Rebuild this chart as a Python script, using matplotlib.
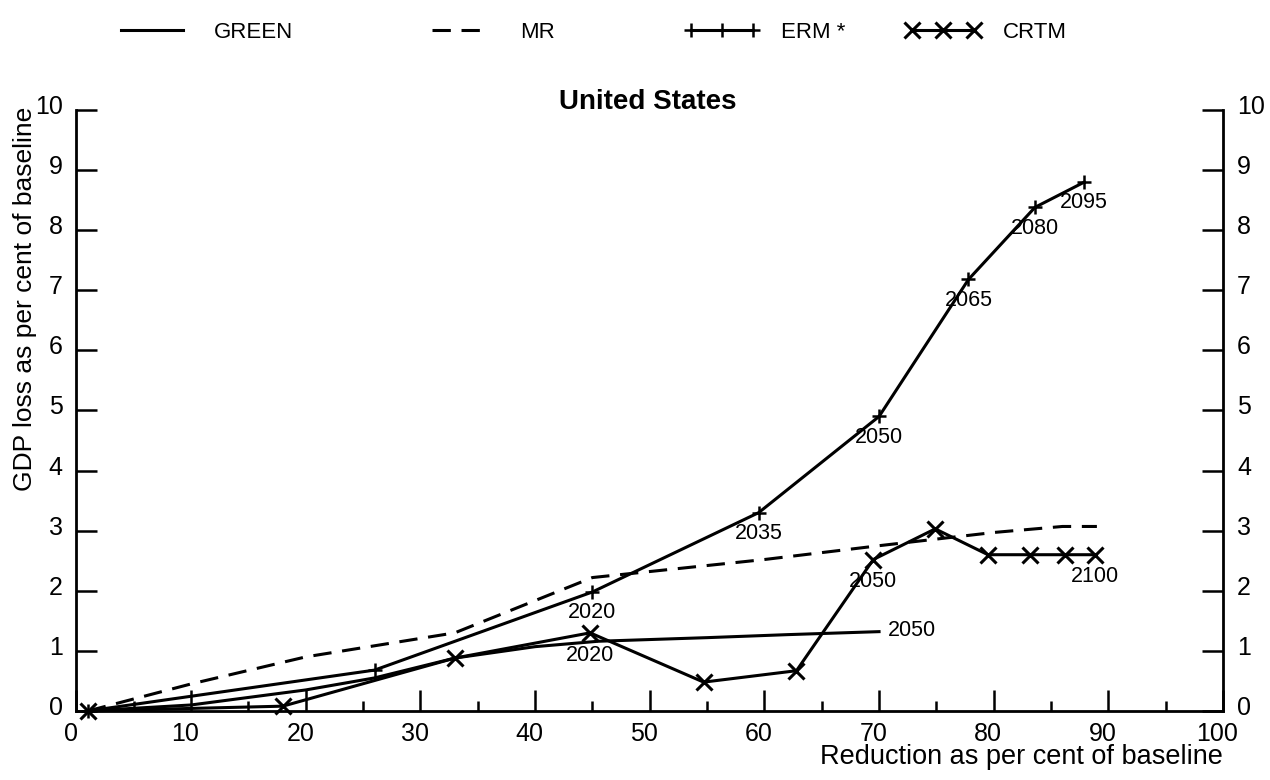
import numpy as np
import matplotlib
matplotlib.use("Agg")
import matplotlib.pyplot as plt
from matplotlib.ticker import MultipleLocator
from matplotlib.transforms import ScaledTranslation

plt.rcParams['font.family'] = ['Liberation Sans', 'DejaVu Sans']

# values (x = reduction %, y = GDP loss %)
green_x = [1, 10, 20, 26, 33, 40, 45.5, 55, 62, 70]
green_y = [0, 0.1, 0.35, 0.55, 0.88, 1.07, 1.16, 1.22, 1.27, 1.32]

mr_x = [1, 10, 20, 33, 45, 60, 70, 80, 86, 89]
mr_y = [0, 0.45, 0.9, 1.3, 2.22, 2.52, 2.75, 2.97, 3.07, 3.07]

erm_x = [1, 26, 45, 59.5, 70, 77.8, 83.6, 87.9]
erm_y = [0, 0.68, 1.98, 3.3, 4.9, 7.18, 8.38, 8.8]

crtm_x = [1, 18, 33, 44.8, 54.7, 62.8, 69.5, 74.9, 79.5, 83.2, 86.2, 88.8]
crtm_y = [0, 0.08, 0.88, 1.3, 0.48, 0.67, 2.52, 3.03, 2.6, 2.6, 2.6, 2.6]

# year labels: which point of which series gets one
erm_years = ['2020', '2035', '2050', '2065', '2080', '2095']
erm_year_idx = [2, 3, 4, 5, 6, 7]
crtm_years = ['2020', '2050', '2100']
crtm_year_idx = [3, 6, 11]
green_end_year = '2050'

fig = plt.figure(figsize=(12.7, 7.8), dpi=100)
ax = fig.add_axes([0.0602, 0.0885, 0.9028, 0.7705])

lw = 2.2
l_green, = ax.plot(green_x, green_y, color='black', lw=lw, clip_on=False)
l_mr, = ax.plot(mr_x, mr_y, color='black', lw=lw, ls=(0, (6, 3.5)), clip_on=False)
l_erm, = ax.plot(erm_x, erm_y, color='black', lw=lw, marker='+', ms=10, mew=1.8,
                 clip_on=False)
l_crtm, = ax.plot(crtm_x, crtm_y, color='black', lw=lw, marker='x', ms=11, mew=2.2,
                  clip_on=False)

for yr, i in zip(erm_years, erm_year_idx):
    ax.annotate(yr, (erm_x[i], erm_y[i]), xytext=(0, -15), textcoords='offset points',
                ha='center', va='center', fontsize=15.5)
for yr, i in zip(crtm_years, crtm_year_idx):
    ax.annotate(yr, (crtm_x[i], crtm_y[i]), xytext=(0, -16), textcoords='offset points',
                ha='center', va='center', fontsize=15.5)
ax.annotate(green_end_year, (green_x[-1], green_y[-1]), xytext=(6, 1),
            textcoords='offset points', ha='left', va='center', fontsize=15.5)

ax.set_xlim(0, 100)
ax.set_ylim(0, 10)
ax.xaxis.set_major_locator(MultipleLocator(10))
ax.xaxis.set_minor_locator(MultipleLocator(5))
ax.yaxis.set_major_locator(MultipleLocator(1))

ax.spines['top'].set_visible(False)
for s in ['left', 'right', 'bottom']:
    ax.spines[s].set_linewidth(2)

ax.tick_params(axis='both', which='major', direction='in', length=15, width=1.8,
               labelsize=18)
ax.tick_params(axis='x', which='major', pad=8)
ax.tick_params(axis='x', which='minor', direction='in', length=7, width=1.8)
ax.tick_params(axis='y', which='major', left=True, right=True, labelright=True, pad=10)

# the scanned labels sit a little above their ticks / a little left of them
up = ScaledTranslation(0, 4 / 72, fig.dpi_scale_trans)
left = ScaledTranslation(-4 / 72, 0, fig.dpi_scale_trans)
for t in ax.yaxis.get_major_ticks():
    t.label1.set_transform(t.label1.get_transform() + up)
    t.label2.set_transform(t.label2.get_transform() + up)
for t in ax.xaxis.get_major_ticks():
    t.label1.set_transform(t.label1.get_transform() + left)

ax.set_xlabel('Reduction as per cent of baseline', fontsize=19.5, ha='right')
ax.xaxis.set_label_coords(1.0, -0.055)
ax.set_ylabel('GDP loss as per cent of baseline', fontsize=19)
ax.yaxis.set_label_coords(-0.034, 0.685)

fig.text(0.51, 0.869, 'United States', ha='center', va='center', fontsize=20,
         fontweight='bold')

# legend strip along the top, one entry at a time
entries = [
    (l_green, 'GREEN', 114, 3.42, 1.08),
    (l_mr, 'MR', 425, 3.06, 1.2),
    (l_erm, 'ERM *', 684, 3.42, 0.95),
    (l_crtm, 'CRTM', 905, 3.42, 1.0),
]
for handle, label, px, hl, tp in entries:
    fig.legend(handles=[handle], labels=[label], loc='center left',
               bbox_to_anchor=(px / 1270, 1 - 32 / 780), frameon=False,
               fontsize=16, handlelength=hl, handletextpad=tp, numpoints=3,
               borderpad=0, borderaxespad=0)

fig.savefig('out.png', dpi=100)
